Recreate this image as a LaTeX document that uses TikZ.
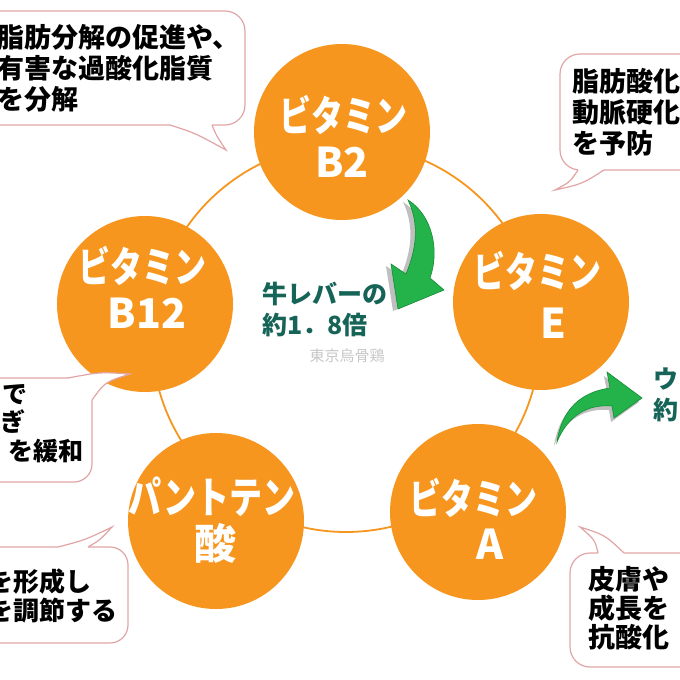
\documentclass[tikz,border=0pt]{standalone}
\usepackage{fontspec}
\usepackage{graphicx}
\newfontfamily\jp{Noto Sans CJK JP}
\definecolor{vorange}{RGB}{247,150,30}
\definecolor{bpink}{RGB}{225,165,165}
\definecolor{teal2}{RGB}{22,100,88}
\definecolor{agreen}{RGB}{36,178,74}
\definecolor{adark}{RGB}{20,140,55}
\newcommand{\tallkana}[1]{\scalebox{1}[1.3]{#1}}
\tikzset{
  orb/.style={circle, fill=vorange, minimum size=176pt, inner sep=0pt},
  orbkana/.style={text=white, font={\jp\bfseries\fontsize{32}{40}\selectfont}, inner sep=0pt},
  orblatin/.style={text=white, font={\jp\bfseries\fontsize{41}{46}\selectfont}, inner sep=0pt},
  bubble/.style={draw=bpink, line width=1.2pt, fill=white, rounded corners=20pt, inner sep=0pt},
  tailfill/.style={fill=white},
  tailline/.style={draw=bpink, line width=1.2pt},
  btext/.style={font={\jp\bfseries\fontsize{27}{31}\selectfont}, align=left, anchor=west, inner sep=0pt, text=black},
  ctext/.style={font={\jp\bfseries\fontsize{25}{31}\selectfont}, align=left, anchor=west, inner sep=0pt, text=teal2},
  ring/.style={draw=vorange, line width=1.8pt},
  shadowarrow/.style={fill=black!25},
  greenarrow/.style={fill=agreen, draw=adark, line width=0.6pt}
}
\begin{document}
\begin{tikzpicture}[x=1pt,y=-1pt]
\clip (0,0) rectangle (680,680);
\fill[white] (0,0) rectangle (680,680);

% ring
\draw[ring] (346,338) circle (194);

% circles
\node[orb] (b2) at (342,132) {};
\node[orb] (ve) at (541,302) {};
\node[orb] (va) at (478,512) {};
\node[orb] (pa) at (216,521) {};
\node[orb] (b12) at (145,304) {};

\node[orbkana] (b2a) at (343,115) {\tallkana{ビタミン}};
\node[orblatin] (b2b) at (342,162) {B2};
\node[orbkana] (vea) at (537,271) {\tallkana{ビタミン}};
\node[orblatin] (veb) at (553,323) {E};
\node[orbkana] (vaa) at (473,498) {\tallkana{ビタミン}};
\node[orblatin] (vab) at (490,544) {A};
\node[orbkana, font={\jp\bfseries\fontsize{33}{40}\selectfont}] (paa) at (212,497) {\tallkana{パントテン}};
\node[orbkana, font={\jp\bfseries\fontsize{42}{46}\selectfont}] (pab) at (215,543) {酸};
\node[orbkana] (b12a) at (142,266) {\tallkana{ビタミン}};
\node[orblatin] (b12b) at (147,313) {B12};

% bubble 1
\node[bubble, minimum width=275pt, minimum height=114pt] (bu1) at (107.5,68) {};
\fill[tailfill] (170,125) .. controls (195,133) .. (226,150) .. controls (216,135) .. (212,125) -- (212,119) -- (170,119) -- cycle;
\draw[tailline] (170,125) .. controls (195,133) .. (226,150) .. controls (216,135) .. (212,125);
\node[btext] (bt1) at (-3,68) {脂肪分解の促進や、\\有害な過酸化脂質\\を分解};

% bubble 2
\node[bubble, minimum width=160pt, minimum height=116pt] (bu2) at (640,112) {};
\fill[tailfill] (578,170) .. controls (570,182) .. (555,190) .. controls (582,184) .. (604,170) -- (604,164) -- (578,164) -- cycle;
\draw[tailline] (578,170) .. controls (570,182) .. (555,190) .. controls (582,184) .. (604,170);
\node[btext] (bt2) at (572,112) {脂肪酸化\\動脈硬化\\を予防};

% bubble 3
\node[bubble, rounded corners=18pt, minimum width=122pt, minimum height=104pt] (bu3) at (31,430) {};
\fill[tailfill] (68,378) .. controls (100,372) .. (130,374) .. controls (105,382) .. (92,400) -- (84,400) -- (84,386) -- (68,386) -- cycle;
\draw[tailline] (68,378) .. controls (100,372) .. (130,374) .. controls (105,382) .. (92,400);
\node[btext, font={\jp\bfseries\fontsize{25}{27}\selectfont}] (bt3a) at (2,395) {で};
\node[btext, font={\jp\bfseries\fontsize{25}{27}\selectfont}] (bt3b) at (0,422) {ぎ};
\node[btext, font={\jp\bfseries\fontsize{25}{27}\selectfont}] (bt3c) at (8,451) {を緩和};

% bubble 4
\node[bubble, rounded corners=18pt, minimum width=158pt, minimum height=96pt] (bu4) at (49,595) {};
\fill[tailfill] (58,547) .. controls (85,540) .. (112,527) .. controls (100,540) .. (88,547) -- (88,553) -- (58,553) -- cycle;
\draw[tailline] (58,547) .. controls (85,540) .. (112,527) .. controls (100,540) .. (88,547);
\node[btext, font={\jp\bfseries\fontsize{26}{29}\selectfont}] (bt4) at (-13,596) {を形成し\\を調節する};

% bubble 5
\node[bubble, minimum width=150pt, minimum height=114pt] (bu5) at (645,610) {};
\fill[tailfill] (598,553) .. controls (595,540) .. (580,527) .. controls (605,535) .. (624,553) -- (624,559) -- (598,559) -- cycle;
\draw[tailline] (598,553) .. controls (595,540) .. (580,527) .. controls (605,535) .. (624,553);
\node[btext, font={\jp\bfseries\fontsize{27}{29}\selectfont}] (bt5) at (588,608) {皮膚や\\成長を\\抗酸化};

% green arrow 1
\fill[shadowarrow, xshift=-5pt, yshift=-2pt] (408,200) .. controls (432,215) and (440,250) .. (430,278) -- (444,290) -- (398,309) -- (391,264) -- (406,274) .. controls (416,250) and (420,225) .. (408,200) -- cycle;
\path[greenarrow] (408,200) .. controls (432,215) and (440,250) .. (430,278) -- (444,290) -- (398,309) -- (391,264) -- (406,274) .. controls (416,250) and (420,225) .. (408,200) -- cycle;

% green arrow 2
\fill[shadowarrow, xshift=-3pt, yshift=-4pt] (557,442) .. controls (562,408) and (582,392) .. (610,388) -- (607,372) -- (642,398) -- (614,418) -- (612,406) .. controls (588,404) and (568,415) .. (557,442) -- cycle;
\path[greenarrow] (557,442) .. controls (562,408) and (582,392) .. (610,388) -- (607,372) -- (642,398) -- (614,418) -- (612,406) .. controls (588,404) and (568,415) .. (557,442) -- cycle;

% center texts
\node[ctext] (liver) at (262,309) {牛レバーの\\約1．8倍};
\node[font={\jp\fontsize{15}{17}\selectfont}, text=black!22, inner sep=0pt] (wm) at (347,356) {東京烏骨鶏};
\node[ctext] (right) at (653,395) {ウ\\約};
\end{tikzpicture}
\end{document}
